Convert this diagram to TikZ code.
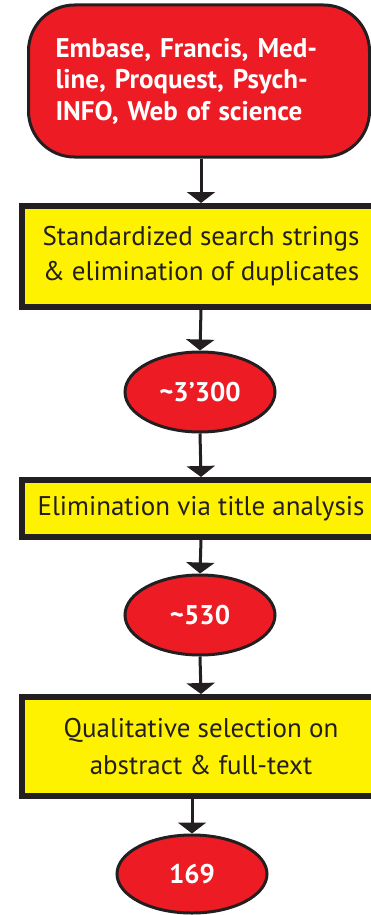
\documentclass[tikz,border=0pt]{standalone}
\usepackage{fontspec}
\setmainfont{PT Sans}
\usetikzlibrary{arrows.meta,shapes.geometric}
\definecolor{boxred}{HTML}{ED1C24}
\definecolor{boxyellow}{HTML}{FFF200}
\definecolor{edge}{HTML}{231F20}
\begin{document}
\begin{tikzpicture}[x=1pt,y=-1pt,>={Triangle[width=28pt,length=11pt]},
  arr/.style={->,draw=edge,line width=3pt},
  dbbox/.style={draw=edge,fill=boxred,line width=3pt,rounded corners=46pt,
    minimum width=341pt,minimum height=152pt,inner xsep=27pt,text width=287pt,
    align=left,text=white,font=\fontsize{27}{31.5}\selectfont\bfseries},
  stepbox/.style={draw=edge,fill=boxyellow,line width=6pt,minimum width=358pt,
    align=center,text=edge,inner sep=0pt},
  count/.style={ellipse,draw=edge,fill=boxred,line width=3pt,minimum width=150pt,
    minimum height=80pt,inner sep=0pt,text=white,font=\fontsize{27}{32}\selectfont\bfseries}]
  \clip (0,0) rectangle (371,915);

  \node[dbbox] (db) at (199,81) {Embase, Francis, Med-\\line, Proquest, Psych-\\INFO, Web of science};
  \node[stepbox,minimum height=101pt,font=\fontsize{27}{35}\selectfont] (search) at (201,256.5)
    {Standardized search strings\\\& elimination of duplicates};
  \node[count] (n1) at (200,392) {\textasciitilde3’300};
  \node[stepbox,minimum height=57pt,font=\fontsize{27}{35}\selectfont] (title) at (201,508.5)
    {Elimination via title analysis};
  \node[count] (n2) at (200,615) {\textasciitilde530};
  \node[stepbox,minimum height=99pt,font=\fontsize{27}{37}\selectfont] (qual) at (201,746.5)
    {Qualitative selection on\\abstract \& full-text};
  \node[count,minimum height=78pt] (n3) at (192,874) {169};

  \draw[arr] (db.south -| search.north) -- (search.north);
  \draw[arr] (search.south) -- (n1.north);
  \draw[arr] (n1.south) -- (title.north);
  \draw[arr] (title.south) -- (n2.north);
  \draw[arr] (n2.south) -- (qual.north);
  \draw[arr] (qual.south -| n3.north) -- (n3.north);
\end{tikzpicture}
\end{document}
